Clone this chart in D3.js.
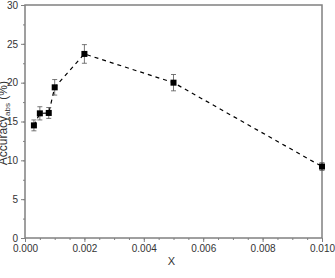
<!DOCTYPE html>
<html>
<head>
<meta charset="utf-8">
<script src="https://cdn.jsdelivr.net/npm/d3@7"></script>
<style>
  body { margin: 0; background: #fff; }
  svg text { font-family: "Liberation Sans", Arial, sans-serif; }
</style>
</head>
<body>
<svg id="chart"></svg>
<script>
const xValues = [0.0003, 0.0005, 0.0008, 0.001, 0.002, 0.005, 0.010];
const yValues = [14.5, 16.05, 16.1, 19.4, 23.7, 20.0, 9.2];
const yErrors = [0.7, 0.85, 0.7, 1.0, 1.2, 1.05, 0.5];
const xTicks = [0, 0.002, 0.004, 0.006, 0.008, 0.010];
const yTicks = [0, 5, 10, 15, 20, 25, 30];

const W = 335, H = 278;
const margin = { top: 5, right: 13, bottom: 40, left: 25 };
const width = W - margin.left - margin.right;
const height = H - margin.top - margin.bottom;

const svg = d3.select("#chart")
    .attr("width", W)
    .attr("height", H);

const g = svg.append("g")
    .attr("transform", `translate(${margin.left},${margin.top})`);

const x = d3.scaleLinear().domain([0, 0.010]).range([0, width]);
const y = d3.scaleLinear().domain([0, 30]).range([height, 0]);

const axisColor = "#808080";

// minor ticks
const xMinor = d3.range(0, 0.0100001, 0.0005);
const yMinor = d3.range(0, 30.001, 2.5);

g.append("g")
    .attr("transform", `translate(0,${height})`)
    .call(d3.axisBottom(x).tickValues(xMinor).tickSize(2).tickFormat(""))
    .call(a => a.select(".domain").remove())
    .call(a => a.selectAll("line").attr("stroke", axisColor));

g.append("g")
    .call(d3.axisLeft(y).tickValues(yMinor).tickSize(2).tickFormat(""))
    .call(a => a.select(".domain").remove())
    .call(a => a.selectAll("line").attr("stroke", axisColor));

g.append("g")
    .attr("transform", `translate(0,${height})`)
    .call(d3.axisBottom(x).tickValues(xTicks).tickSize(4).tickPadding(3).tickFormat(d3.format(".3f")))
    .call(a => a.select(".domain").remove())
    .call(a => a.selectAll("line").attr("stroke", axisColor))
    .call(a => a.selectAll("text").attr("fill", "#333").style("font-size", "10px"));

g.append("g")
    .call(d3.axisLeft(y).tickValues(yTicks).tickSize(4).tickPadding(3).tickFormat(d3.format("d")))
    .call(a => a.select(".domain").remove())
    .call(a => a.selectAll("line").attr("stroke", axisColor))
    .call(a => a.selectAll("text").attr("fill", "#333").style("font-size", "10px"));

// frame
g.append("rect")
    .attr("width", width)
    .attr("height", height)
    .attr("fill", "none")
    .attr("stroke", axisColor)
    .attr("stroke-width", 1.5);

const data = xValues.map((v, i) => ({ x: v, y: yValues[i], e: yErrors[i] }));

const line = d3.line()
    .x(d => x(d.x))
    .y(d => y(d.y));

g.append("path")
    .datum(data)
    .attr("fill", "none")
    .attr("stroke", "#000")
    .attr("stroke-width", 1.2)
    .attr("stroke-dasharray", "4,4")
    .attr("d", line);

// error bars
const eb = g.selectAll(".eb")
    .data(data)
    .enter()
    .append("g")
    .attr("stroke", "#555")
    .attr("stroke-width", 0.8);

eb.append("line")
    .attr("x1", d => x(d.x)).attr("x2", d => x(d.x))
    .attr("y1", d => y(d.y - d.e)).attr("y2", d => y(d.y + d.e));
eb.append("line")
    .attr("x1", d => x(d.x) - 2.5).attr("x2", d => x(d.x) + 2.5)
    .attr("y1", d => y(d.y + d.e)).attr("y2", d => y(d.y + d.e));
eb.append("line")
    .attr("x1", d => x(d.x) - 2.5).attr("x2", d => x(d.x) + 2.5)
    .attr("y1", d => y(d.y - d.e)).attr("y2", d => y(d.y - d.e));

g.selectAll(".pt")
    .data(data)
    .enter()
    .append("rect")
    .attr("x", d => x(d.x) - 3)
    .attr("y", d => y(d.y) - 3)
    .attr("width", 6)
    .attr("height", 6)
    .attr("fill", "#000");

// axis labels
svg.append("text")
    .attr("x", margin.left + x(0.005) - 2)
    .attr("y", 265)
    .attr("text-anchor", "middle")
    .attr("fill", "#333")
    .style("font-size", "11px")
    .text("X");

const yl = svg.append("text")
    .attr("transform", "translate(7,81) rotate(-90)")
    .attr("text-anchor", "end")
    .attr("fill", "#333")
    .style("font-size", "12px");
yl.append("tspan").text("Accuracy");
yl.append("tspan").attr("dy", 3).style("font-size", "8px").text("abs");
yl.append("tspan").attr("dy", -3).text(" (%)");
</script>
</body>
</html>
